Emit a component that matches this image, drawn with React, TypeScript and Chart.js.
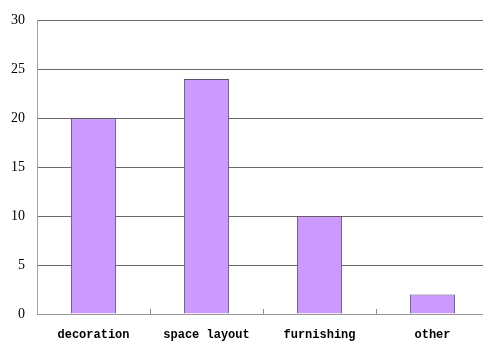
import React, { useEffect, useRef } from "react";
import { Chart, registerables } from "chart.js";

Chart.register(...registerables);

const categories: string[] = ["decoration", "space layout", "furnishing", "other"];
const counts: number[] = [20, 24, 10, 2];
const yMin = 0;
const yMax = 30;
const yStep = 5;

// small upward tick marks on the baseline between categories
const innerTicks = {
  id: "innerTicks",
  afterDatasetsDraw(chart: any) {
    const { ctx, chartArea, scales } = chart;
    const x = scales.x;
    const n = categories.length;
    ctx.save();
    ctx.strokeStyle = "#8c8c8c";
    ctx.lineWidth = 1;
    for (let i = 0; i < n; i++) {
      const a = x.getPixelForValue(i);
      const b = i + 1 < n ? x.getPixelForValue(i + 1) : a + (a - x.getPixelForValue(i - 1));
      const px = Math.round((a + b) / 2) + 0.5;
      ctx.beginPath();
      ctx.moveTo(px, chartArea.bottom);
      ctx.lineTo(px, chartArea.bottom - 5);
      ctx.stroke();
    }
    ctx.restore();
  },
};

export default function App() {
  const ref = useRef<HTMLCanvasElement | null>(null);

  useEffect(() => {
    if (!ref.current) return;
    const chart = new Chart(ref.current, {
      type: "bar",
      data: {
        labels: categories,
        datasets: [
          {
            data: counts,
            backgroundColor: "#CC99FF",
            borderColor: "#5e4d6e",
            borderWidth: 1,
            barPercentage: 0.4,
            categoryPercentage: 1,
          },
        ],
      },
      options: {
        responsive: false,
        animation: false,
        devicePixelRatio: 1,
        layout: { padding: { top: 19, left: 0, right: 0, bottom: 0 } },
        plugins: {
          legend: { display: false },
          tooltip: { enabled: false },
        },
        scales: {
          x: {
            grid: { display: false, drawTicks: false },
            border: { display: true, color: "#9a9a9a", width: 1 },
            ticks: {
              color: "#000",
              padding: 14,
              font: { family: "'Liberation Mono', 'DejaVu Sans Mono', monospace", size: 12, weight: "bold" },
            },
            afterFit: (s: any) => {
              s.height = 28;
            },
          },
          y: {
            min: yMin,
            max: yMax,
            grid: {
              drawTicks: false,
              color: (c: any) => (c.tick && c.tick.value === 0 ? "#9a9a9a" : "#6a6a6a"),
              lineWidth: 1,
            },
            border: { display: true, color: "#a0a0a0", width: 1 },
            ticks: {
              stepSize: yStep,
              color: "#000",
              padding: 12,
              font: { family: "'Liberation Serif', 'DejaVu Serif', serif", size: 14 },
            },
            afterFit: (s: any) => {
              s.width = 37;
            },
          },
        },
      },
      plugins: [innerTicks],
    });
    return () => chart.destroy();
  }, []);

  return (
    <div
      style={{
        position: "fixed",
        top: 0,
        left: 0,
        width: 483,
        height: 342,
        overflow: "hidden",
        background: "#fff",
      }}
    >
      <canvas ref={ref} width={489} height={342} style={{ display: "block", width: 489, height: 342 }} />
    </div>
  );
}
